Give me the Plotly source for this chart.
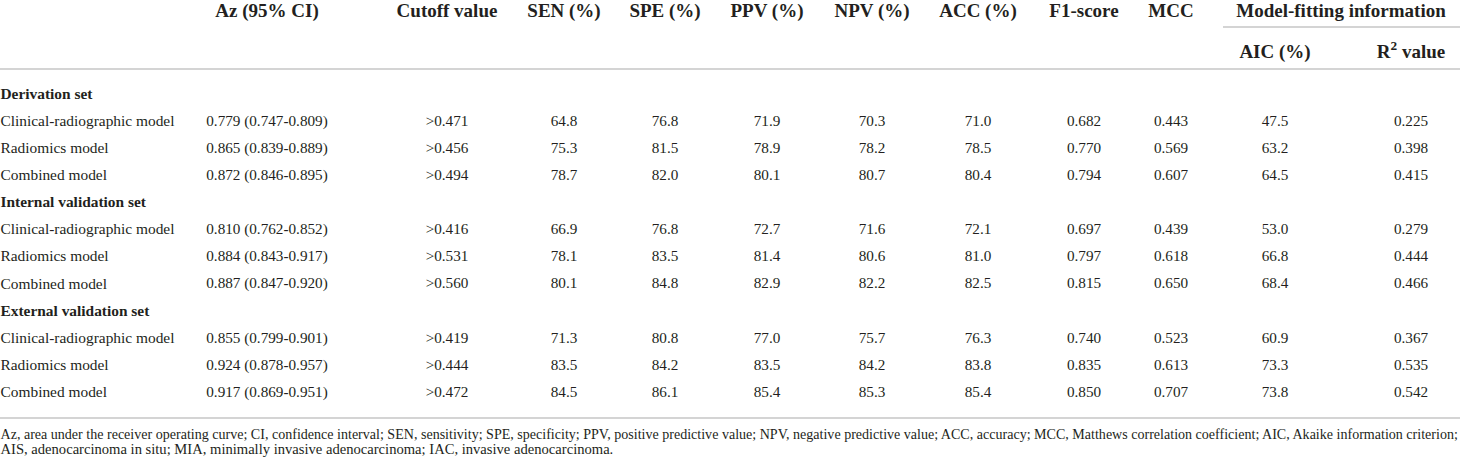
import plotly.graph_objects as go

# table content
sections = ["Derivation set", "Internal validation set", "External validation set"]
models = ["Clinical-radiographic model", "Radiomics model", "Combined model"]

az = ["0.779 (0.747-0.809)", "0.865 (0.839-0.889)", "0.872 (0.846-0.895)",
      "0.810 (0.762-0.852)", "0.884 (0.843-0.917)", "0.887 (0.847-0.920)",
      "0.855 (0.799-0.901)", "0.924 (0.878-0.957)", "0.917 (0.869-0.951)"]
cutoff = [">0.471", ">0.456", ">0.494", ">0.416", ">0.531", ">0.560",
          ">0.419", ">0.444", ">0.472"]
sen = [64.8, 75.3, 78.7, 66.9, 78.1, 80.1, 71.3, 83.5, 84.5]
spe = [76.8, 81.5, 82.0, 76.8, 83.5, 84.8, 80.8, 84.2, 86.1]
ppv = [71.9, 78.9, 80.1, 72.7, 81.4, 82.9, 77.0, 83.5, 85.4]
npv = [70.3, 78.2, 80.7, 71.6, 80.6, 82.2, 75.7, 84.2, 85.3]
acc = [71.0, 78.5, 80.4, 72.1, 81.0, 82.5, 76.3, 83.8, 85.4]
f1 = [0.682, 0.770, 0.794, 0.697, 0.797, 0.815, 0.740, 0.835, 0.850]
mcc = [0.443, 0.569, 0.607, 0.439, 0.618, 0.650, 0.523, 0.613, 0.707]
aic = [47.5, 63.2, 64.5, 53.0, 66.8, 68.4, 60.9, 73.3, 73.8]
r2 = [0.225, 0.398, 0.415, 0.279, 0.444, 0.466, 0.367, 0.535, 0.542]

headers = ["Az (95% CI)", "Cutoff value", "SEN (%)", "SPE (%)", "PPV (%)",
           "NPV (%)", "ACC (%)", "F1-score", "MCC"]
group_header = "Model-fitting information"
sub_headers = ["AIC (%)", "R<sup>2</sup> value"]

footnote = [
    "Az, area under the receiver operating curve; CI, confidence interval; SEN, sensitivity; "
    "SPE, specificity; PPV, positive predictive value; NPV, negative predictive value; "
    "ACC, accuracy; MCC, Matthews correlation coefficient; AIC, Akaike information criterion;",
    "AIS, adenocarcinoma in situ; MIA, minimally invasive adenocarcinoma; IAC, invasive adenocarcinoma.",
]

# layout (pixel coordinates)
W, H = 1460, 461
col_x = [267, 447, 564, 665, 767, 872, 978, 1084, 1171, 1275, 1411]
group_x = 1341
row_y0, row_step = 95, 27.1
head_y1, head_y2 = 12, 53
foot_y = [435, 450]
foot_size = [14.05, 14.6]
font = "Liberation Serif"
ink = "#231f20"
rule = "#c6c6c6"

columns = [
    az,
    cutoff,
    [f"{v:.1f}" for v in sen],
    [f"{v:.1f}" for v in spe],
    [f"{v:.1f}" for v in ppv],
    [f"{v:.1f}" for v in npv],
    [f"{v:.1f}" for v in acc],
    [f"{v:.3f}" for v in f1],
    [f"{v:.3f}" for v in mcc],
    [f"{v:.1f}" for v in aic],
    [f"{v:.3f}" for v in r2],
]

# row order: section title, then its three models
labels, label_bold, data_rows = [], [], []
k = 0
for s in sections:
    labels.append(s)
    label_bold.append(True)
    data_rows.append(None)
    for m in models:
        labels.append(m)
        label_bold.append(False)
        data_rows.append(k)
        k += 1
row_y = [row_y0 + i * row_step for i in range(len(labels))]

fig = go.Figure()

# row labels
fig.add_trace(go.Scatter(
    x=[0.5] * len(labels), y=row_y, mode="text",
    text=[f"<b>{t}</b>" if b else t for t, b in zip(labels, label_bold)],
    textposition="middle right",
    textfont=dict(family=font, size=15.4, color=ink),
    hoverinfo="skip", cliponaxis=False))

# cell values
for c, vals in enumerate(columns):
    ys, ts = [], []
    for i, r in enumerate(data_rows):
        if r is None:
            continue
        ys.append(row_y[i])
        ts.append(vals[r])
    fig.add_trace(go.Scatter(
        x=[col_x[c]] * len(ys), y=ys, mode="text", text=ts,
        textposition="middle center",
        textfont=dict(family=font, size=15.2, color=ink),
        hoverinfo="skip", cliponaxis=False))

# headers
fig.add_trace(go.Scatter(
    x=col_x[:len(headers)] + [group_x] + col_x[len(headers):],
    y=[head_y1] * (len(headers) + 1) + [head_y2] * len(sub_headers),
    mode="text",
    text=[f"<b>{t}</b>" for t in headers + [group_header] + sub_headers],
    textposition="middle center",
    textfont=dict(family=font, size=19, color=ink),
    hoverinfo="skip", cliponaxis=False))

# footnote
for y, s, t in zip(foot_y, foot_size, footnote):
    fig.add_trace(go.Scatter(
        x=[0.5], y=[y], mode="text", text=[t],
        textposition="middle right",
        textfont=dict(family=font, size=s, color=ink),
        hoverinfo="skip", cliponaxis=False))

# rules
fig.add_shape(type="line", x0=1223, x1=W, y0=27, y1=27, line=dict(color=rule, width=1.5))
fig.add_shape(type="line", x0=0, x1=W, y0=69, y1=69, line=dict(color=rule, width=1.5))
fig.add_shape(type="line", x0=0, x1=W, y0=418, y1=418, line=dict(color=rule, width=1.5))

fig.update_layout(
    width=W, height=H,
    margin=dict(l=0, r=0, t=0, b=0),
    paper_bgcolor="white", plot_bgcolor="white",
    showlegend=False,
    xaxis=dict(range=[0, W], visible=False, fixedrange=True),
    yaxis=dict(range=[H, 0], visible=False, fixedrange=True),
)

# the page body has a default 8px margin; drop it so the table sits at the corner
fig.write_html("out.html", config={"displayModeBar": False},
               post_script="document.body.style.margin='0';")
